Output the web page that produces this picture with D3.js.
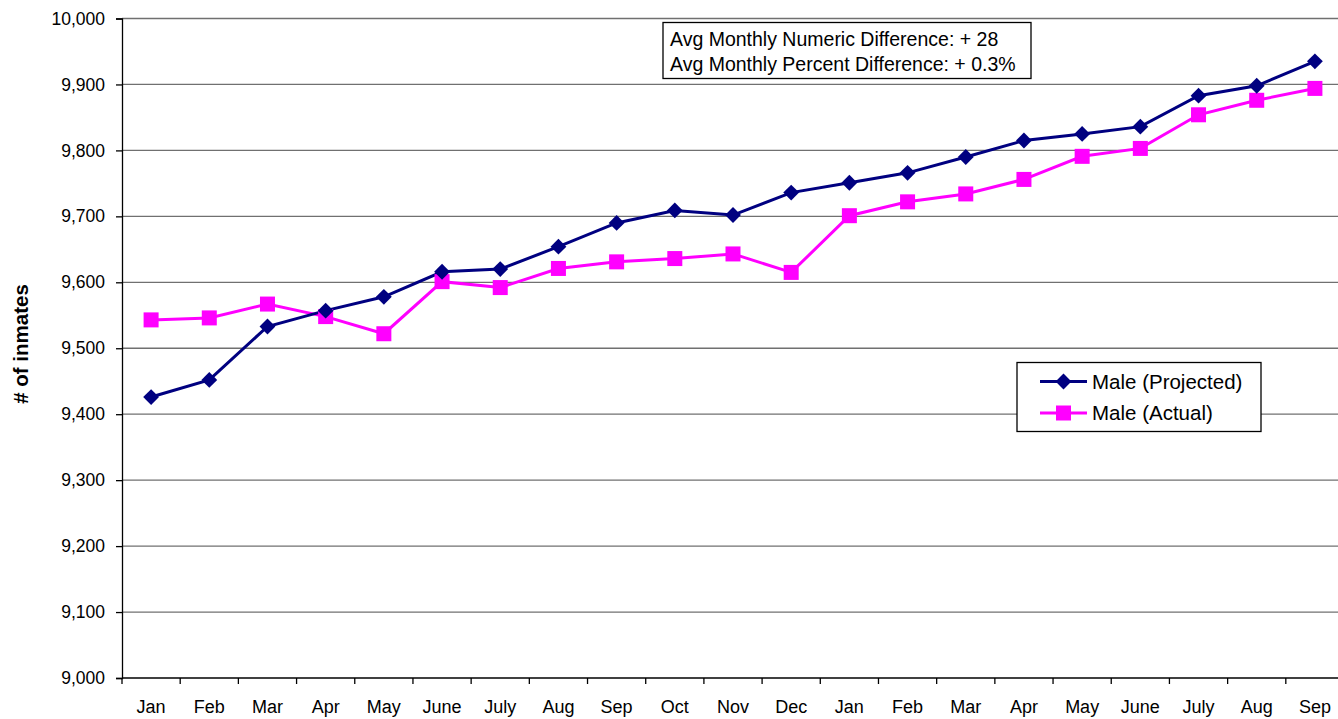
<!DOCTYPE html>
<html>
<head>
<meta charset="utf-8">
<script src="https://cdn.jsdelivr.net/npm/d3@7"></script>
<style>
  body { margin: 0; background: #fff; }
  svg { display: block; font-family: "Liberation Sans", Arial, sans-serif; }
</style>
</head>
<body>
<svg id="chart" width="1338" height="719"></svg>
<script>
// month labels along the x axis (Jan of year 1 .. Sep of year 2)
const months = ["Jan", "Feb", "Mar", "Apr", "May", "June", "July", "Aug", "Sep", "Oct", "Nov", "Dec",
                "Jan", "Feb", "Mar", "Apr", "May", "June", "July", "Aug", "Sep"];

// values
const projected = [9426, 9452, 9533, 9557, 9578, 9616, 9620, 9654, 9690, 9709, 9702, 9736,
                   9751, 9766, 9790, 9815, 9825, 9836, 9883, 9898, 9935];
const actual = [9543, 9546, 9567, 9548, 9522, 9601, 9592, 9621, 9631, 9636, 9643, 9615,
                9701, 9722, 9734, 9756, 9791, 9803, 9854, 9876, 9894];

const yTicks = [9000, 9100, 9200, 9300, 9400, 9500, 9600, 9700, 9800, 9900, 10000];
const notes = ["Avg Monthly Numeric Difference: + 28", "Avg Monthly Percent Difference: + 0.3%"];
const seriesNames = ["Male (Projected)", "Male (Actual)"];

const svg = d3.select("#chart");
const plotLeft = 122, plotRight = 1344, plotTop = 18.5, plotBottom = 678;

const idx = months.map((d, i) => i);
const x = d3.scaleBand().domain(idx).range([plotLeft, plotRight]);
const y = d3.scaleLinear().domain([9000, 10000]).range([plotBottom, plotTop]);
const cx = i => x(i) + x.bandwidth() / 2;

// gridlines
svg.append("g")
  .selectAll("line")
  .data(yTicks.slice(1))
  .enter()
  .append("line")
  .attr("x1", plotLeft).attr("x2", 1338)
  .attr("y1", d => y(d)).attr("y2", d => y(d))
  .attr("stroke", "#707070")
  .attr("stroke-width", 1.3);

// y axis
const yAxis = svg.append("g")
  .attr("transform", `translate(${plotLeft},0)`)
  .call(d3.axisLeft(y).tickValues(yTicks).tickFormat(d3.format(",")).tickSize(6).tickPadding(11));
yAxis.select(".domain").attr("stroke", "#000").attr("stroke-width", 1.3);
yAxis.selectAll(".tick line").attr("stroke", "#000").attr("stroke-width", 1.3);
yAxis.selectAll("text").attr("font-size", 17.5).attr("fill", "#000")
  .attr("font-family", "Liberation Sans, Arial, sans-serif");

// x axis with ticks on band edges
const xg = svg.append("g").attr("transform", `translate(0,${plotBottom})`);
xg.append("line").attr("x1", plotLeft).attr("x2", 1338).attr("y1", 0).attr("y2", 0)
  .attr("stroke", "#000").attr("stroke-width", 1.5);
xg.selectAll("line.tk")
  .data(d3.range(months.length + 1))
  .enter()
  .append("line")
  .attr("class", "tk")
  .attr("x1", i => plotLeft + i * x.bandwidth()).attr("x2", i => plotLeft + i * x.bandwidth())
  .attr("y1", 0).attr("y2", 6)
  .attr("stroke", "#000").attr("stroke-width", 1.3);
xg.selectAll("text")
  .data(months)
  .enter()
  .append("text")
  .attr("x", (d, i) => cx(i))
  .attr("y", 35)
  .attr("text-anchor", "middle")
  .attr("font-size", 18)
  .text(d => d);

// y axis title
svg.append("text")
  .attr("transform", "translate(28,344) rotate(-90)")
  .attr("text-anchor", "middle")
  .attr("font-size", 20.5)
  .attr("font-weight", "bold")
  .text("# of inmates");

// series
const line = d3.line().x((d, i) => cx(i)).y(d => y(d));

svg.append("path").datum(actual)
  .attr("d", line).attr("fill", "none")
  .attr("stroke", "#ff00ff").attr("stroke-width", 3);
svg.append("path").datum(projected)
  .attr("d", line).attr("fill", "none")
  .attr("stroke", "#000080").attr("stroke-width", 3);

const diamond = d3.symbol().type(d3.symbolDiamond2).size(160);

svg.append("g").selectAll("rect")
  .data(actual)
  .enter()
  .append("rect")
  .attr("x", (d, i) => cx(i) - 7.5).attr("y", d => y(d) - 7.5)
  .attr("width", 15).attr("height", 15)
  .attr("fill", "#ff00ff");

svg.append("g").selectAll("path")
  .data(projected)
  .enter()
  .append("path")
  .attr("d", diamond)
  .attr("transform", (d, i) => `translate(${cx(i)},${y(d)})`)
  .attr("fill", "#000080");

// annotation box
svg.append("rect")
  .attr("x", 663).attr("y", 22.5).attr("width", 368).attr("height", 56)
  .attr("fill", "#fff").attr("stroke", "#000").attr("stroke-width", 1.3);
svg.append("g").selectAll("text")
  .data(notes)
  .enter()
  .append("text")
  .attr("x", 670)
  .attr("y", (d, i) => 45.5 + i * 25)
  .attr("font-size", 19.5)
  .text(d => d);

// legend
svg.append("rect")
  .attr("x", 1017).attr("y", 362.5).attr("width", 244).attr("height", 69)
  .attr("fill", "#fff").attr("stroke", "#000").attr("stroke-width", 1.3);
const legendColors = ["#000080", "#ff00ff"];
const lg = svg.append("g").selectAll("g")
  .data(seriesNames)
  .enter()
  .append("g")
  .attr("transform", (d, i) => `translate(1040,${381.5 + i * 31.5})`);
lg.append("line").attr("x1", 0).attr("x2", 47)
  .attr("stroke", (d, i) => legendColors[i]).attr("stroke-width", 3);
lg.filter((d, i) => i === 0).append("path").attr("d", diamond)
  .attr("transform", "translate(23.5,0)").attr("fill", legendColors[0]);
lg.filter((d, i) => i === 1).append("rect")
  .attr("x", 16).attr("y", -7.5).attr("width", 15).attr("height", 15).attr("fill", legendColors[1]);
lg.append("text")
  .attr("x", 52).attr("y", 7)
  .attr("font-size", 20.5)
  .text(d => d);
</script>
</body>
</html>
